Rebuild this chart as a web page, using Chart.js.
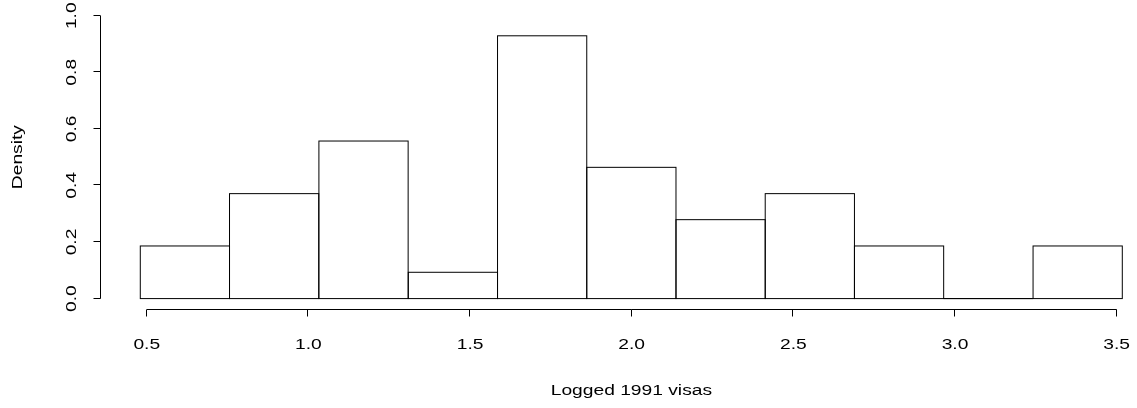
<!DOCTYPE html>
<html>
<head>
<meta charset="utf-8">
<title>Logged 1991 visas</title>
<script src="https://cdn.jsdelivr.net/npm/chart.js@4"></script>
<style>
  html, body { margin: 0; padding: 0; background: #fff; }
  #wrap { width: 1137px; height: 408px; position: relative; }
</style>
</head>
<body>
<div id="wrap"><canvas id="hist"></canvas></div>
<script>
// Histogram bin edges (logged 1991 visas) and the density of each bin
const breaks = [0.480, 0.756, 1.032, 1.309, 1.585, 1.861, 2.137, 2.413, 2.689, 2.965, 3.241, 3.518];
const density = [0.186, 0.371, 0.557, 0.093, 0.929, 0.464, 0.279, 0.371, 0.186, 0.000, 0.186];

// Axis ticks and their labels
const xTicks = [0.5, 1.0, 1.5, 2.0, 2.5, 3.0, 3.5];
const xTickLabels = ["0.5", "1.0", "1.5", "2.0", "2.5", "3.0", "3.5"];
const yTicks = [0.0, 0.2, 0.4, 0.6, 0.8, 1.0];
const yTickLabels = ["0.0", "0.2", "0.4", "0.6", "0.8", "1.0"];

const xTitle = "Logged 1991 visas";
const yTitle = "Density";

// Visible axis ranges (left/bottom padded by 4% of the data range)
const xSpan = breaks[breaks.length - 1] - breaks[0];
const xMin = breaks[0] - 0.04 * xSpan;
const xMax = 3.563;
const yMin = -0.04, yMax = 1.04;

const points = density.map((d, i) => ({ x: (breaks[i] + breaks[i + 1]) / 2, y: d }));

const FONT = '15.5px "Liberation Sans", Arial, Helvetica, sans-serif';
const STRETCH = 1.24;

function drawText(ctx, str, x, y, rot) {
  ctx.save();
  ctx.translate(x, y);
  ctx.rotate(rot);
  ctx.scale(STRETCH, 1);
  ctx.font = FONT;
  ctx.fillStyle = '#000';
  ctx.textAlign = 'center';
  ctx.textBaseline = 'alphabetic';
  ctx.fillText(str, 0, 0);
  ctx.restore();
}
const crisp = v => Math.round(v) - 0.5;

// Outlines every bin (including empty ones) and draws R-style axes
const baseGraphics = {
  id: 'baseGraphics',
  afterDatasetsDraw(chart) {
    const ctx = chart.ctx;
    const meta = chart.getDatasetMeta(0);
    ctx.save();
    ctx.strokeStyle = '#000';
    ctx.lineWidth = 1;
    meta.data.forEach(el => {
      const p = el.getProps(['x', 'y', 'base', 'width'], true);
      ctx.strokeRect(p.x - p.width / 2, p.y, p.width, p.base - p.y);
    });
    ctx.restore();
  },
  afterDraw(chart) {
    const ctx = chart.ctx;
    const xs = chart.scales.x, ys = chart.scales.y;
    const area = chart.chartArea;
    const tick = 7;
    ctx.save();
    ctx.strokeStyle = '#000';
    ctx.lineWidth = 1;

    // x axis
    const ay = crisp(area.bottom);
    ctx.beginPath();
    ctx.moveTo(xs.getPixelForValue(xTicks[0]), ay);
    ctx.lineTo(xs.getPixelForValue(xTicks[xTicks.length - 1]), ay);
    xTicks.forEach(v => {
      const px = crisp(xs.getPixelForValue(v));
      ctx.moveTo(px, ay);
      ctx.lineTo(px, ay + tick);
    });
    ctx.stroke();

    // y axis
    const ax = crisp(area.left);
    ctx.beginPath();
    ctx.moveTo(ax, ys.getPixelForValue(yTicks[0]));
    ctx.lineTo(ax, ys.getPixelForValue(yTicks[yTicks.length - 1]));
    yTicks.forEach(v => {
      const py = crisp(ys.getPixelForValue(v));
      ctx.moveTo(ax, py);
      ctx.lineTo(ax - tick, py);
    });
    ctx.stroke();
    ctx.restore();

    // tick labels
    xTicks.forEach((v, i) => drawText(ctx, xTickLabels[i], xs.getPixelForValue(v), area.bottom + 39.5, 0));
    yTicks.forEach((v, i) => drawText(ctx, yTickLabels[i], area.left - 25, ys.getPixelForValue(v), -Math.PI / 2));

    // axis titles, centred on the binned data range / plot height
    const xMid = (breaks[0] + breaks[breaks.length - 1]) / 2;
    drawText(ctx, xTitle, xs.getPixelForValue(xMid), area.bottom + 84.6, 0);
    drawText(ctx, yTitle, area.left - 78.7, (area.top + area.bottom) / 2, -Math.PI / 2);
  }
};

new Chart(document.getElementById('hist'), {
  type: 'bar',
  data: {
    datasets: [{
      data: points,
      backgroundColor: '#ffffff',
      borderWidth: 0,
      barPercentage: 1,
      categoryPercentage: 1
    }]
  },
  options: {
    responsive: true,
    maintainAspectRatio: false,
    animation: false,
    devicePixelRatio: 1,
    layout: { padding: { left: 101, right: 0, top: 4.4, bottom: 98.1 } },
    plugins: { legend: { display: false }, tooltip: { enabled: false } },
    scales: {
      x: {
        type: 'linear', min: xMin, max: xMax, offset: false, display: false,
        afterBuildTicks: s => { s.ticks = xTicks.map(v => ({ value: v })); }
      },
      y: { type: 'linear', min: yMin, max: yMax, display: false }
    }
  },
  plugins: [baseGraphics]
});
</script>
</body>
</html>
